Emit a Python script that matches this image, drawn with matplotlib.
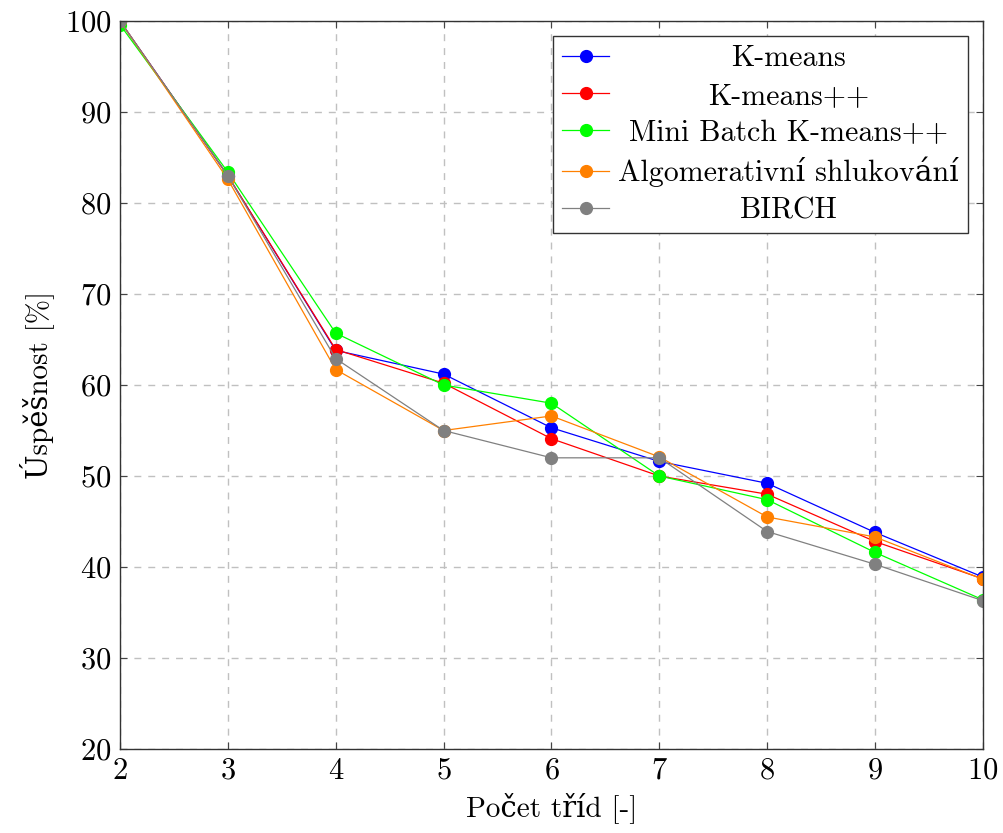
import matplotlib.pyplot as plt

plt.rcParams['font.family'] = ['cmr10', 'DejaVu Serif']
plt.rcParams['mathtext.fontset'] = 'cm'
plt.rcParams['axes.formatter.use_mathtext'] = True

# Data
pocet_trid = [2, 3, 4, 5, 6, 7, 8, 9, 10]
kmeans = [100.0, 83.0, 63.8, 61.2, 55.3, 51.6, 49.2, 43.8, 38.9]
kmeans_pp = [100.0, 83.0, 63.9, 60.2, 54.1, 50.0, 48.0, 42.8, 38.7]
minibatch_pp = [99.6, 83.4, 65.7, 60.0, 58.0, 50.0, 47.4, 41.6, 36.4]
aglomerativni = [100.0, 82.6, 61.7, 55.0, 56.6, 52.1, 45.5, 43.3, 38.65]
birch = [100.0, 83.0, 62.9, 55.0, 52.0, 52.0, 43.9, 40.3, 36.3]

serie = [
    ("K-means", kmeans, (0, 0, 1)),
    ("K-means++", kmeans_pp, (1, 0, 0)),
    ("Mini Batch K-means++", minibatch_pp, (0, 1, 0)),
    ("Algomerativní shlukování", aglomerativni, (1, 0.5, 0)),
    ("BIRCH", birch, (0.5, 0.5, 0.5)),
]

fig = plt.figure(figsize=(10.04, 8.33), dpi=100)
ax = fig.add_axes([0.1195, 0.1008, 0.8595, 0.874])

for nazev, hodnoty, barva in serie:
    ax.plot(pocet_trid, hodnoty, color=barva, marker='o', markersize=8.5,
            linewidth=0.9, label=nazev)

ax.set_xlim(2, 10)
ax.set_ylim(20, 100)
ax.set_xticks(range(2, 11))
ax.set_yticks(range(20, 101, 10))
ax.tick_params(direction='in', length=5, labelsize=22, top=True, right=True,
               color='#444444', pad=6)
for s in ax.spines.values():
    s.set_color('#333333')
    s.set_linewidth(1.0)
ax.grid(True, color='#c0c0c0', linestyle=(0, (5, 5)), linewidth=1.0)

ax.set_xlabel("Počet tříd [-]", fontsize=21, labelpad=5)
ax.set_ylabel("Úspěšnost [%]", fontsize=21, labelpad=8)

leg = ax.legend(loc='upper right', fontsize=21.5, fancybox=False, framealpha=1,
                edgecolor='#333333', handlelength=1.6, labelspacing=0.33,
                borderaxespad=0.5, handletextpad=0.3, borderpad=0.3)
leg.get_frame().set_linewidth(1.0)

# vycentrovat popisky legendy
fig.canvas.draw()
r = fig.canvas.get_renderer()
texty = leg.get_texts()
sirky = [t.get_window_extent(r).width for t in texty]
maxw = max(sirky)
for t, w in zip(texty, sirky):
    t.set_position(((maxw - w) / 2, 0))

fig.savefig("out.png", dpi=100)
